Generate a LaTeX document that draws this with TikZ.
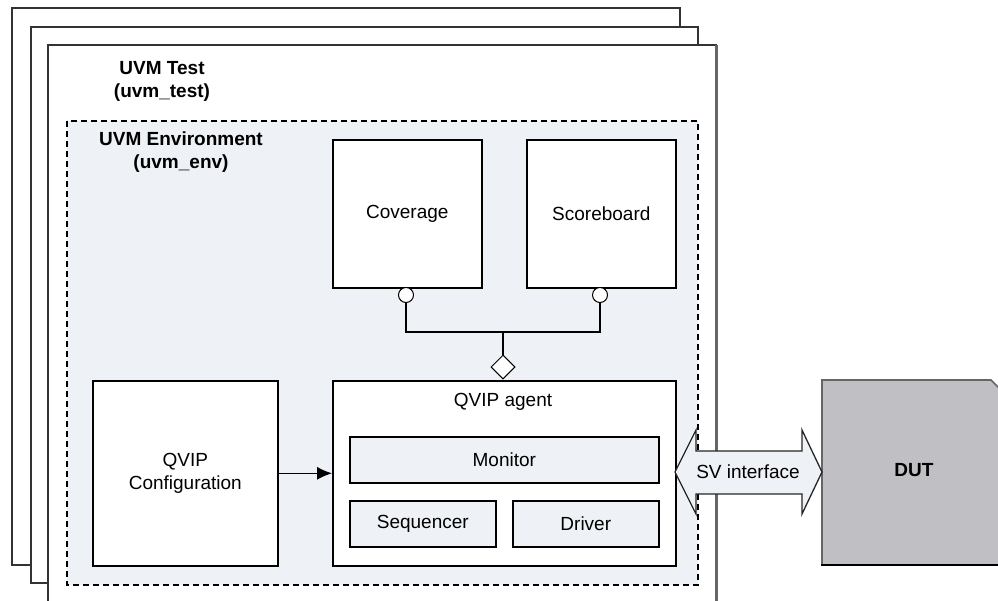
\documentclass[tikz,border=0pt]{standalone}
\usepackage{fontspec}
\setmainfont{Liberation Sans}
\usetikzlibrary{shapes.geometric,arrows.meta}
\definecolor{envfill}{HTML}{EEF1F5}
\definecolor{dutfill}{HTML}{C0BFC4}
\definecolor{pageline}{HTML}{333333}
\begin{document}
\begin{tikzpicture}[x=1pt,y=-1pt,
  every node/.style={font=\fontsize{19}{23}\selectfont},
  pagebox/.style={draw=pageline,line width=2.2pt,fill=white},
  blockbox/.style={draw=black,line width=1.6pt,fill=white,anchor=north west,inner sep=0pt},
  subbox/.style={draw=black,line width=1.6pt,fill=envfill,anchor=north west,inner sep=0pt},
  port/.style={circle,draw=black,line width=1pt,fill=white,minimum size=15pt,inner sep=0pt},
  conn/.style={draw=black,line width=1.2pt},
  lbl/.style={align=center,font=\fontsize{19}{23}\selectfont\bfseries}]
\useasboundingbox (0,0) rectangle (998,600);
% stacked test pages
\draw[pagebox] (12,8) rectangle (680,565);
\draw[pagebox] (31,27) rectangle (698,583);
\draw[pagebox] (48,45) rectangle (716,612);
\draw[draw=black!60,line width=3pt] (716,45) -- (716,612);
\node[lbl] (testlbl) at (162,81) {UVM Test\\(uvm\_test)};
% environment
\draw[dashed,dash pattern=on 6pt off 4pt,line width=1.2pt,fill=envfill] (67,121) rectangle (698,585);
\node[lbl,align=center] (envlbl) at (181,152) {UVM Environment\\(uvm\_env)};
% blocks
\node[blockbox,minimum width=149pt,minimum height=148pt] (cov) at (332,139) {};
\node (covt) at (cov.center) {Coverage};
\node[blockbox,minimum width=149pt,minimum height=148pt] (sb) at (526,139) {};
\node (sbt) at (sb.center) {Scoreboard};
\node[blockbox,minimum width=185pt,minimum height=185pt] (cfg) at (92,380) {};
\node[align=center] (cfgt) at (cfg.center) {QVIP\\Configuration};
\node[blockbox,minimum width=343pt,minimum height=185pt] (agent) at (332,380) {};
\node (agentt) at (503,402) {QVIP agent};
\node[subbox,minimum width=309pt,minimum height=46pt] (mon) at (349,436) {};
\node (mont) at (mon.center) {Monitor};
\node[subbox,minimum width=146pt,minimum height=46pt] (seq) at (349,500) {};
\node (seqt) at (seq.center) {Sequencer};
\node[subbox,minimum width=146pt,minimum height=46pt] (drv) at (512,500) {};
\node (drvt) at (drv.center) {Driver};
% analysis connections
\node[port] (p1) at (406,295) {};
\node[port] (p2) at (600,295) {};
\node[diamond,draw=black,line width=1pt,fill=white,minimum width=24pt,minimum height=24pt,inner sep=0pt] (dm) at (503,367) {};
\coordinate (j) at (503,332);
\draw[conn] (p1.south) |- (j) -| (p2.south);
\draw[conn] (j) -- (dm.north);
\draw[conn,-{Latex[length=15pt,width=13pt]}] (cfg.east) -- (agent.west |- cfg.east);
% DUT
\draw[draw=black!60,line width=1.6pt,fill=dutfill] (822,565) -- (822,380) -- (991,380) -- (1002,391) -- (1002,565);
\draw[draw=black,line width=2pt] (821,565) -- (1002,565);
\node[font=\fontsize{19}{23}\selectfont\bfseries] (dut) at (914,470) {DUT};
% SV interface
\draw[draw=black!85,line width=1.3pt,fill=envfill] (675,472) -- (696,430) -- (696,451) -- (802,451) -- (802,430) -- (822,472) -- (802,514) -- (802,494) -- (696,494) -- (696,514) -- cycle;
\node (sv) at (748,472) {SV interface};
\end{tikzpicture}
\end{document}
